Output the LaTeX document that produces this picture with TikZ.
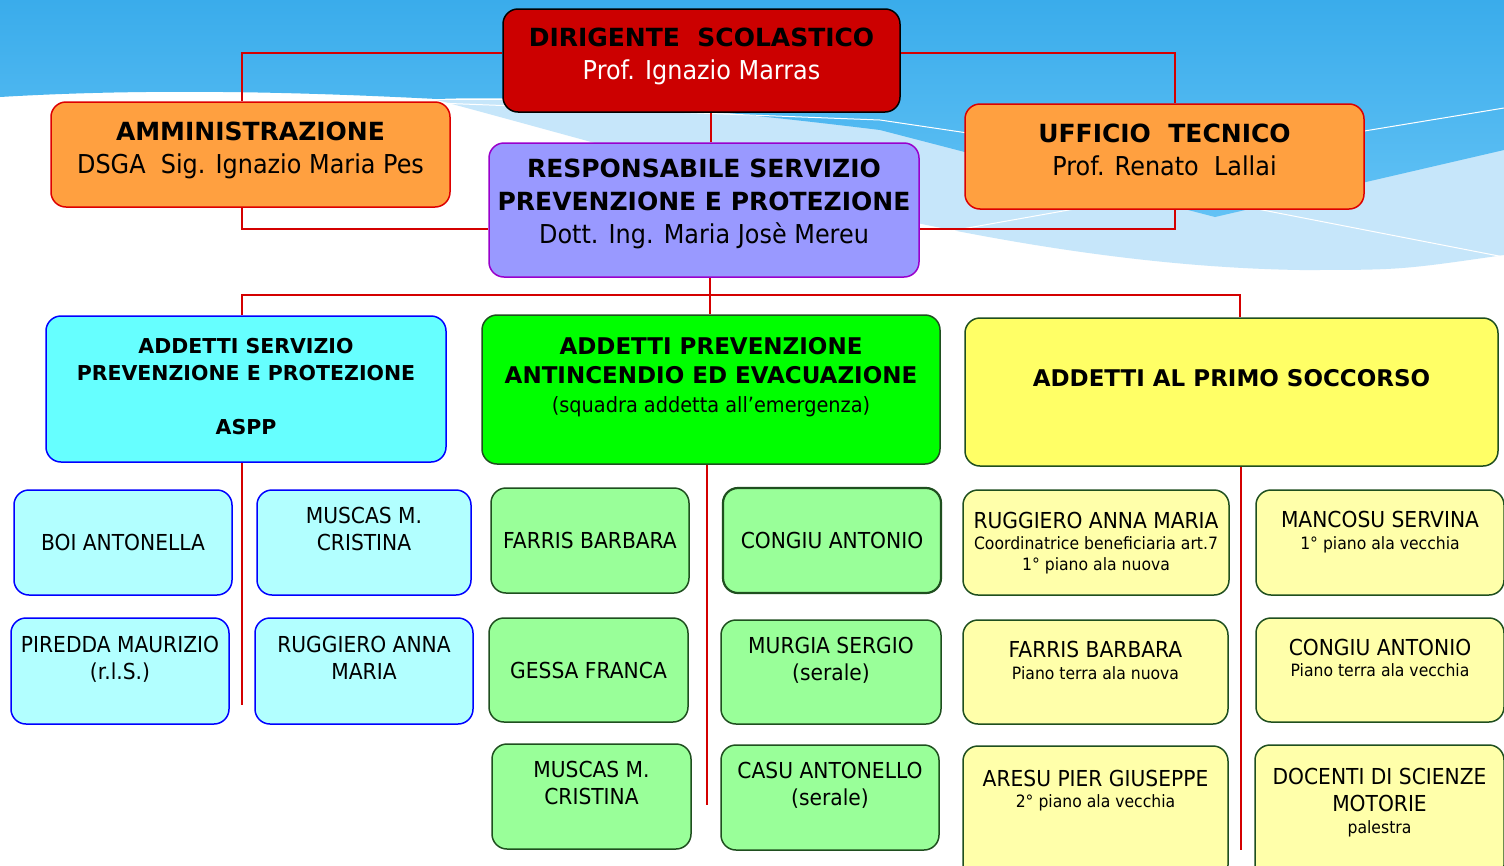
\documentclass[tikz,border=0pt]{standalone}
\usepackage{fontspec}
\setmainfont{DejaVu Sans}[FakeStretch=0.92, BoldFont={DejaVu Sans Bold}, BoldFeatures={FakeStretch=1.0}]
\usepackage{tikz}
\usepackage{xcolor}
\definecolor{skytop}{HTML}{3AACEB}
\definecolor{skybot}{HTML}{62C2F5}
\definecolor{skylight}{HTML}{C6E6FA}
\definecolor{dirred}{HTML}{CC0000}
\definecolor{linkred}{HTML}{D40000}
\definecolor{offorange}{HTML}{FFA040}
\definecolor{offline}{HTML}{DD0000}
\definecolor{rsppfill}{HTML}{9999FF}
\definecolor{rsppline}{HTML}{9900CC}
\definecolor{asppfill}{HTML}{66FFFF}
\definecolor{asppchild}{HTML}{B2FFFF}
\definecolor{asppline}{HTML}{0000FF}
\definecolor{antifill}{HTML}{00FF00}
\definecolor{antichild}{HTML}{99FF99}
\definecolor{darkgreen}{HTML}{1F4F1F}
\definecolor{socfill}{HTML}{FFFF66}
\definecolor{socchild}{HTML}{FFFFAA}
\newcommand{\subline}{\fontsize{17}{24}\selectfont}
\tikzset{>=latex}
\tikzset{
  box/.style={rounded corners=15pt, line width=1.5pt, inner sep=0pt, align=center},
  headbox/.style={box, font=\fontsize{25}{33}\selectfont},
  dirbox/.style={headbox, fill=dirred, draw=black},
  officebox/.style={headbox, fill=offorange, draw=offline},
  rsppbox/.style={headbox, fill=rsppfill, draw=rsppline},
  asppbox/.style={box, fill=asppfill, draw=asppline, font=\fontsize{20.5}{27}\selectfont\bfseries},
  antibox/.style={box, fill=antifill, draw=darkgreen, font=\fontsize{23}{29}\selectfont},
  socbox/.style={box, fill=socfill, draw=darkgreen, font=\fontsize{23}{29}\selectfont\bfseries},
  asppitem/.style={box, fill=asppchild, draw=asppline, font=\fontsize{22}{27}\selectfont},
  antiitem/.style={box, fill=antichild, draw=darkgreen, font=\fontsize{22}{27}\selectfont},
  socitem/.style={box, fill=socchild, draw=darkgreen, font=\fontsize{22}{24}\selectfont},
  link/.style={draw=linkred, line width=2pt}
}

\begin{document}
\begin{tikzpicture}[x=1pt, y=-1pt]
  \useasboundingbox (0,0) rectangle (1504,865);
  \fill[white] (0,0) rectangle (1504,865);
  \fill[skylight] (437,100) .. controls (700,170) and (1000,265) .. (1300,270) .. controls (1400,270) .. (1504,255) -- (1504,100) -- cycle;
  \shade[top color=skytop, bottom color=skybot] (0,0) -- (1504,0) -- (1504,150) -- (1215,217) -- (880,130) .. controls (700,108) and (550,95) .. (437,99) .. controls (300,92) and (150,88) .. (0,97) -- cycle;
  \draw[white, line width=1pt] (437,103) -- (880,120) -- (1170,163) -- (1504,108);
  \draw[white, line width=1pt] (900,240) -- (1170,192) -- (1504,257);

  \node[dirbox, minimum width=397pt, minimum height=103pt] (dir) at (701.5,60.5)
    {\textbf{DIRIGENTE~~SCOLASTICO}\\{\color{white}\fontsize{26}{33}\selectfont Prof. Ignazio Marras}\\[-20pt]\mbox{}};
  \node[officebox, minimum width=399pt, minimum height=105pt] (amm) at (250.5,154.5)
    {\textbf{AMMINISTRAZIONE}\\{\fontsize{26}{33}\selectfont DSGA~~Sig. Ignazio Maria Pes}\\[-20pt]\mbox{}};
  \node[officebox, minimum width=399pt, minimum height=105pt] (uff) at (1164.5,156.5)
    {\textbf{UFFICIO~~TECNICO}\\{\fontsize{26}{33}\selectfont Prof. Renato~~Lallai}\\[-20pt]\mbox{}};
  \node[rsppbox, minimum width=430pt, minimum height=134pt] (rspp) at (704,210)
    {\textbf{RESPONSABILE SERVIZIO}\\\textbf{PREVENZIONE E PROTEZIONE}\\{\fontsize{26}{33}\selectfont Dott. Ing. Maria Josè Mereu}\\[-15pt]\mbox{}};

  \node[asppbox, minimum width=400pt, minimum height=146pt] (aspp) at (246,389)
    {ADDETTI SERVIZIO\\PREVENZIONE E PROTEZIONE\\\mbox{}\\ASPP\\[-21pt]\mbox{}};
  \node[antibox, minimum width=458pt, minimum height=149pt] (anti) at (711,389.5)
    {\textbf{ADDETTI PREVENZIONE}\\\textbf{ANTINCENDIO ED EVACUAZIONE}\\{\fontsize{21}{29}\selectfont (squadra addetta all’emergenza)}\\\mbox{}};
  \node[socbox, minimum width=533pt, minimum height=148pt] (soc) at (1231.5,392)
    {ADDETTI AL PRIMO SOCCORSO\\\mbox{}};

  \node[asppitem, minimum width=218pt, minimum height=105pt] (boi) at (123,542.5) {BOI ANTONELLA};
  \node[asppitem, minimum width=214pt, minimum height=105pt] (muscasa) at (364,542.5) {MUSCAS M.\\CRISTINA\\\mbox{}};
  \node[asppitem, minimum width=218pt, minimum height=106pt] (piredda) at (120,671) {PIREDDA MAURIZIO\\(r.l.S.)\\\mbox{}};
  \node[asppitem, minimum width=218pt, minimum height=106pt] (ruggieroa) at (364,671) {RUGGIERO ANNA\\MARIA\\\mbox{}};

  \node[antiitem, minimum width=198pt, minimum height=105pt] (farrisa) at (590,540.5) {FARRIS BARBARA};
  \node[antiitem, minimum width=199pt, minimum height=104pt] (gessa) at (588.5,670) {GESSA FRANCA};
  \node[antiitem, minimum width=199pt, minimum height=105pt] (muscasb) at (591.5,796.5) {MUSCAS M.\\CRISTINA\\\mbox{}};
  \node[antiitem, line width=2.2pt, minimum width=218pt, minimum height=105pt] (congiua) at (832,540.5) {CONGIU ANTONIO};
  \node[antiitem, minimum width=220pt, minimum height=104pt] (murgia) at (831,672) {MURGIA SERGIO\\(serale)\\\mbox{}};
  \node[antiitem, minimum width=218pt, minimum height=105pt] (casu) at (830,797.5) {CASU ANTONELLO\\(serale)\\\mbox{}};

  \node[socitem, minimum width=266pt, minimum height=105pt] (ruggierob) at (1096,542.5)
    {RUGGIERO ANNA MARIA\\[-3pt]{\subline Coordinatrice beneficiaria art.7}\\[-3pt]{\subline 1° piano ala nuova}\\[-21pt]\mbox{}};
  \node[socitem, minimum width=248pt, minimum height=105pt] (mancosu) at (1380,542.5)
    {MANCOSU SERVINA\\[-2pt]{\subline 1° piano ala vecchia}\\\mbox{}};
  \node[socitem, minimum width=265pt, minimum height=104pt] (farrisb) at (1095.5,672)
    {FARRIS BARBARA\\[-2pt]{\subline Piano terra ala nuova}\\\mbox{}};
  \node[socitem, minimum width=248pt, minimum height=104pt] (congiub) at (1380,670)
    {CONGIU ANTONIO\\[-3pt]{\subline Piano terra ala vecchia}\\\mbox{}};
  \node[socitem, minimum width=265pt, minimum height=134pt] (aresu) at (1095.5,813)
    {ARESU PIER GIUSEPPE\\[-3pt]{\subline 2° piano ala vecchia}\\\mbox{}\\\mbox{}};
  \node[socitem, minimum width=249pt, minimum height=135pt] (docenti) at (1379.5,812.5)
    {DOCENTI DI SCIENZE\\[3pt]MOTORIE\\[-2pt]{\subline palestra}\\\mbox{}};

  \coordinate (bus) at (710,295);
  \coordinate (asppend) at (242,705);
  \coordinate (antiend) at (707,805);
  \coordinate (socend) at (1241,850);

  \draw[link] ([yshift=7.5pt]dir.west) -| ([xshift=-8.5pt]amm.north);
  \draw[link] ([yshift=7.5pt]dir.east) -| ([xshift=10.5pt]uff.north);
  \draw[link] ([xshift=9.5pt]dir.south) -- ([xshift=9.5pt]dir.south |- rspp.north);
  \draw[link] ([xshift=-8.5pt]amm.south) |- ([yshift=-19pt]rspp.west);
  \draw[link] ([xshift=10.5pt]uff.south) |- ([yshift=-19pt]rspp.east);
  \draw[link] (rspp.south -| bus) -- (bus);
  \draw[link] ([xshift=-4pt]aspp.north) |- (bus) -| ([xshift=8.5pt]soc.north);
  \draw[link] (bus) -- (bus |- anti.north);
  \draw[link] (aspp.south -| asppend) -- (asppend);
  \draw[link] (anti.south -| antiend) -- (antiend);
  \draw[link] (soc.south -| socend) -- (socend);
\end{tikzpicture}
\end{document}
